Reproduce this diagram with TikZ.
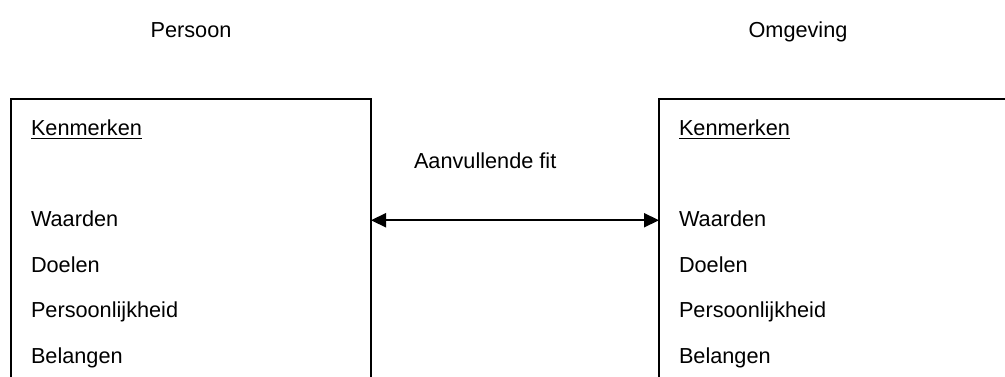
\documentclass[tikz,border=0pt]{standalone}
\usepackage{fontspec}
\setmainfont{Liberation Sans}
\usetikzlibrary{arrows.meta}
\begin{document}
\begin{tikzpicture}[x=1pt,y=-1pt,
  every node/.style={inner sep=0pt,outer sep=0pt},
  lbl/.style={font=\fontsize{21.7}{26}\selectfont, anchor=base west},
  ttl/.style={font=\fontsize{21.7}{26}\selectfont, anchor=base},
  frame/.style={draw, line width=1.8pt, rectangle, anchor=north west},
  ul/.style={line width=1.6pt},
  fitarrow/.style={line width=2.2pt, {Triangle[length=15pt,width=14pt]}-{Triangle[length=15pt,width=14pt]}}
]
\useasboundingbox (0,0) rectangle (1005,376);
\clip (0,0) rectangle (1005,376);

% column titles
\node[ttl] (persoon) at (191,37) {Persoon};
\node[ttl] (omgeving) at (798,37) {Omgeving};

% frames (open towards the bottom / right edge)
\node[frame, minimum width=360pt, minimum height=320pt] (lbox) at (11,99) {};
\node[frame, minimum width=400pt, minimum height=320pt] (rbox) at (659,99) {};

% person characteristics
\node[lbl] (lk) at (31,135) {Kenmerken};
\node[lbl] (lw) at (31,226) {Waarden};
\node[lbl] (ld) at (31,272) {Doelen};
\node[lbl] (lp) at (31,317) {Persoonlijkheid};
\node[lbl] (lb) at (31,363) {Belangen};

% environment characteristics
\node[lbl] (rk) at (679,135) {Kenmerken};
\node[lbl] (rw) at (679,226) {Waarden};
\node[lbl] (rd) at (679,272) {Doelen};
\node[lbl] (rp) at (679,317) {Persoonlijkheid};
\node[lbl] (rb) at (679,363) {Belangen};

% underlines of the headings
\draw[ul] ([yshift=-3.5pt]lk.base west) -- ([yshift=-3.5pt]lk.base east);
\draw[ul] ([yshift=-3.5pt]rk.base west) -- ([yshift=-3.5pt]rk.base east);

% fit relation
\node[lbl] (fit) at (414,168) {Aanvullende fit};
\draw[fitarrow] ([yshift=-2pt]lbox.east |- lw) -- ([yshift=-2pt]rbox.west |- lw);
\end{tikzpicture}
\end{document}
